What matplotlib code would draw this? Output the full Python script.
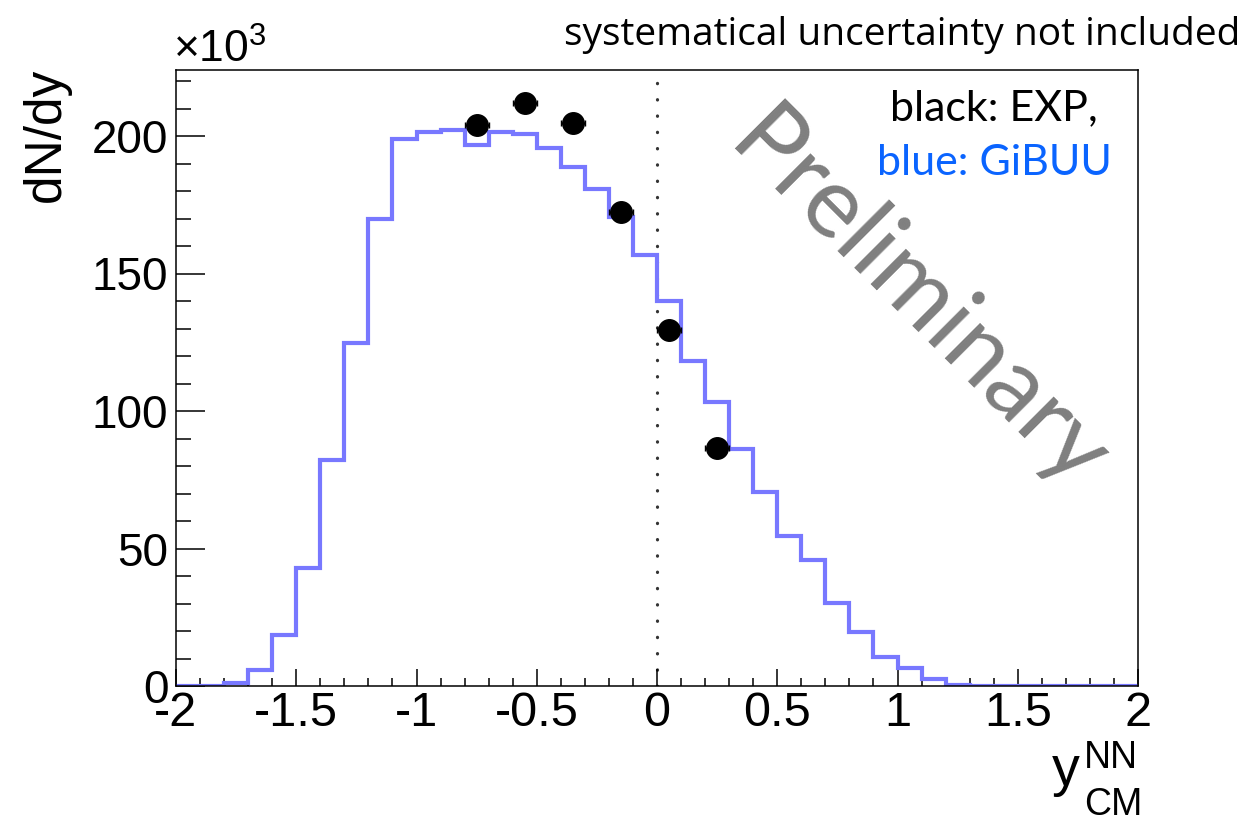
import numpy as np
import matplotlib
matplotlib.use("Agg")
import matplotlib.pyplot as plt
from matplotlib.ticker import MultipleLocator

plt.rcParams['font.family'] = ['Liberation Sans', 'DejaVu Sans']
plt.rcParams['mathtext.fontset'] = 'custom'
plt.rcParams['mathtext.rm'] = 'Liberation Sans'
plt.rcParams['mathtext.it'] = 'Liberation Sans'

# GiBUU histogram, 0.1 wide bins from -2 to 2 (values in 10^3)
bin_edges = np.round(np.arange(-2.0, 2.05, 0.1), 1)
gibuu = [0.0, 0.0, 1.2, 5.7, 18.6, 42.9, 82.2, 124.8, 169.8, 198.8,
         201.6, 202.2, 196.6, 201.3, 200.7, 195.5, 188.8, 180.9, 170.5, 156.7,
         140.0, 118.1, 103.1, 86.1, 70.7, 54.7, 45.7, 30.2, 19.8, 10.7,
         6.4, 2.5, 0.4, 0.1, 0.0, 0.0, 0.0, 0.0, 0.0, 0.0]

# experimental points
exp_y = [-0.75, -0.55, -0.35, -0.15, 0.05, 0.25]
exp_val = [204.0, 211.9, 204.8, 172.4, 129.6, 86.4]
exp_xerr = [0.05] * 6

W, H = 1247, 825
fig = plt.figure(figsize=(W / 100, H / 100), dpi=100)
ax = fig.add_axes([176 / W, 1 - 686 / H, (1138 - 176) / W, (686 - 70) / H])

ax.stairs(gibuu, bin_edges, color='#7878ff', linewidth=3.0, zorder=2)
ax.errorbar(exp_y, exp_val, xerr=exp_xerr, fmt='o', color='black',
            markersize=15.5, elinewidth=1, capsize=2, zorder=3)

ax.axvline(0, color='#333333', linewidth=2.3, linestyle=(0, (0.1, 5.0)),
           dash_capstyle='round', zorder=1)

ax.set_xlim(-2, 2)
ax.set_ylim(0, 224)

ax.xaxis.set_minor_locator(MultipleLocator(0.1))
ax.yaxis.set_minor_locator(MultipleLocator(10))
ax.set_xticks([-2, -1.5, -1, -0.5, 0, 0.5, 1, 1.5, 2])
ax.set_xticklabels(['-2', '-1.5', '-1', '-0.5', '0', '0.5', '1', '1.5', '2'])
ax.set_yticks([0, 50, 100, 150, 200])
ax.set_yticklabels(['0', '50', '100', '150', '200'])

ax.tick_params(axis='both', which='both', direction='in', top=False, right=False,
               width=1.1, colors='black')
ax.tick_params(axis='y', which='major', length=21, pad=5.5, labelsize=33)
ax.tick_params(axis='y', which='minor', length=10.5)
ax.tick_params(axis='x', which='major', length=12, pad=3.5, labelsize=35)
ax.tick_params(axis='x', which='minor', length=6)
for sp in ax.spines.values():
    sp.set_linewidth(1.1)

# axis titles, ROOT style
fig.text(46 / W, 1 - 68 / H, 'dN/dy', rotation=90, ha='center', va='top',
         fontsize=37)
fig.text(173 / W, 1 - 63 / H, r'$\times\mathregular{10^{3}}$', ha='left',
         va='baseline', fontsize=32)
fig.text(1052 / W, 1 - 785 / H, 'y', ha='left', va='baseline', fontsize=40)
fig.text(1084 / W, 1 - 768 / H, 'NN', ha='left', va='baseline', fontsize=27)
fig.text(1084 / W, 1 - 815 / H, 'CM', ha='left', va='baseline', fontsize=27)

fig.text(1240 / W, 1 - 45 / H, 'systematical uncertainty not included',
         ha='right', va='baseline', fontsize=28, family=['Open Sans', 'DejaVu Sans'])

fig.text(994 / W, 1 - 120 / H, 'black: EXP,', ha='center', va='baseline',
         fontsize=31, color='black', family=['Lato', 'DejaVu Sans'])
fig.text(994 / W, 1 - 175 / H, 'blue: GiBUU', ha='center', va='baseline',
         fontsize=31, color='#0a64ff', family=['Lato', 'DejaVu Sans'])

fig.text(918 / W, 1 - 301 / H, 'Preliminary', ha='center', va='center',
         rotation=-45, fontsize=71, color='#7f7f7f',
         family=['Lato', 'DejaVu Sans'], zorder=0)

fig.savefig('out.png', dpi=100)
